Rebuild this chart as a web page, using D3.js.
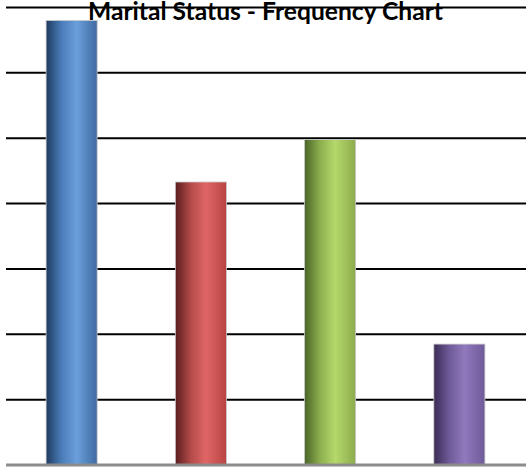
<!DOCTYPE html>
<html><head><meta charset="utf-8">
<script src="https://cdn.jsdelivr.net/npm/d3@7"></script>
<style>html,body{margin:0;padding:0;background:#fff;}</style>
</head><body>
<svg id="c" width="526" height="469"></svg>
<script>
const title = "Marital Status - Frequency Chart";
const categories = ["Married", "Single", "Divorced", "Widowed"];
const values = [68, 43.3, 49.8, 18.5];
const tickValues = [0, 10, 20, 30, 40, 50, 60, 70];
const palettes = [
  ["#1e3a5f", "#4a7cb8", "#6a9fdc", "#3f6aa0"],
  ["#5a1e1e", "#b44a4a", "#e06666", "#b84343"],
  ["#4a6528", "#8cae4e", "#b5d86c", "#8cab4c"],
  ["#3a2c55", "#6e5a98", "#9079bd", "#6f5a99"]
];

(function () {
const svg = d3.select("#c");
const mLeft = 6, mRight = 526, mTop = 7.5, mBottom = 465;
const y = d3.scaleLinear().domain([0, 70]).range([mBottom, mTop]);
const x = d3.scaleBand().domain(categories).range([7, 524]).paddingInner(0.605).paddingOuter(0.3025);

const defs = svg.append("defs");
palettes.forEach((p, i) => {
  const g = defs.append("linearGradient").attr("id", "g" + i).attr("x1", 0).attr("x2", 1).attr("y1", 0).attr("y2", 0);
  g.append("stop").attr("offset", "0%").attr("stop-color", p[0]);
  g.append("stop").attr("offset", "30%").attr("stop-color", p[1]);
  g.append("stop").attr("offset", "60%").attr("stop-color", p[2]);
  g.append("stop").attr("offset", "100%").attr("stop-color", p[3]);
});

svg.append("g").selectAll("line").data(tickValues.filter(d => d > 0)).join("line")
  .attr("x1", mLeft).attr("x2", mRight)
  .attr("y1", d => y(d)).attr("y2", d => y(d))
  .attr("stroke", "#000").attr("stroke-width", 2);

svg.append("g").selectAll("rect").data(values).join("rect")
  .attr("x", (d, i) => x(categories[i]))
  .attr("width", x.bandwidth())
  .attr("y", d => y(d))
  .attr("height", d => mBottom - y(d))
  .attr("fill", (d, i) => `url(#g${i})`)
  .attr("stroke", "#c8c8c8").attr("stroke-width", 0.8);

svg.append("line").attr("x1", mLeft).attr("x2", mRight)
  .attr("y1", mBottom).attr("y2", mBottom)
  .attr("stroke", "#8c8c8c").attr("stroke-width", 3);

const tg = svg.append("g");
const t = tg.append("text").text(title)
  .attr("x", 0).attr("y", 0)
  .attr("text-anchor", "middle")
  .attr("font-family", "Lato, 'Open Sans', sans-serif")
  .attr("font-weight", "bold")
  .attr("font-size", 20)
  .attr("fill", "#000");
const w = t.node().getComputedTextLength();
const fs = 20 * 355 / w;
t.attr("font-size", fs);
const k = Math.max(1, 16.3 / (0.72 * fs));
tg.attr("transform", `translate(265.5,19.5) scale(1,${k})`);
})();
</script>
</body></html>
